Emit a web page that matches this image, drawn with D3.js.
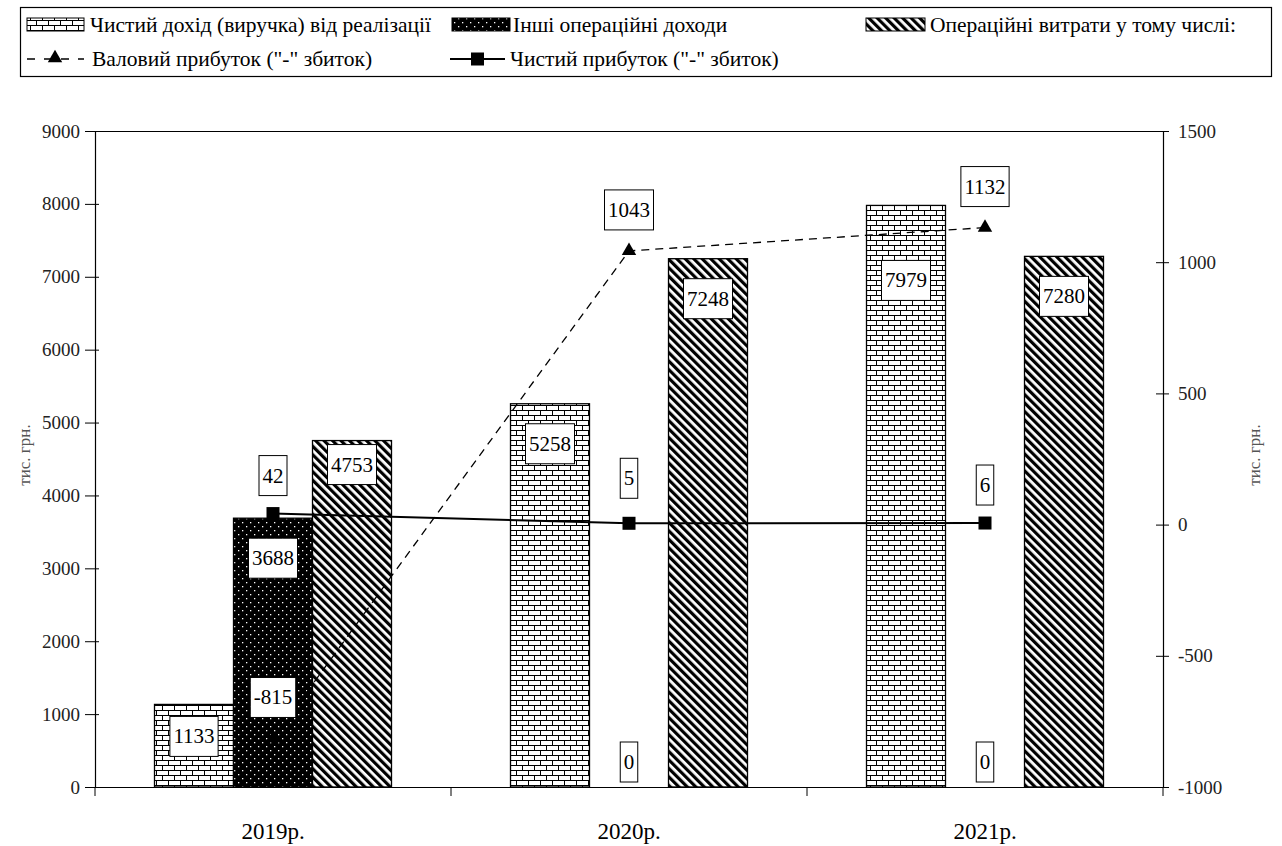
<!DOCTYPE html>
<html>
<head>
<meta charset="utf-8">
<script src="https://cdn.jsdelivr.net/npm/d3@7"></script>
<style>
  body { margin: 0; background: #fff; }
  svg { font-family: "Times New Roman", Times, Tinos, "Noto Serif", "Liberation Serif", "DejaVu Serif", serif; }
</style>
</head>
<body>
<div id="chart"></div>
<script>
// data
var years = ["2019р.", "2020р.", "2021р."];
var revenue = [1133, 5258, 7979];        // Чистий дохід (виручка) від реалізації
var otherIncome = [3688, 0, 0];          // Інші операційні доходи
var opExpenses = [4753, 7248, 7280];     // Операційні витрати
var grossProfit = [-815, 1043, 1132];    // Валовий прибуток
var netProfit = [42, 5, 6];              // Чистий прибуток
var leftTicks = [0, 1000, 2000, 3000, 4000, 5000, 6000, 7000, 8000, 9000];
var rightTicks = [-1000, -500, 0, 500, 1000, 1500];

var width = 1282, height = 846;
var margin = { top: 131, right: 119, bottom: 59, left: 95 };

var svg = d3.select("#chart")
    .append("svg")
    .attr("width", width)
    .attr("height", height);

// patterns
var defs = svg.append("defs");

var brick = defs.append("pattern").attr("id", "brick")
    .attr("patternUnits", "userSpaceOnUse").attr("width", 12).attr("height", 10);
brick.append("rect").attr("width", 12).attr("height", 10).attr("fill", "#fff");
brick.append("path")
    .attr("d", "M0,0.5H12M0,5.5H12M0.5,0V5.5M6.5,5.5V10")
    .attr("stroke", "#000").attr("stroke-width", 1).attr("fill", "none");

var dots = defs.append("pattern").attr("id", "dots")
    .attr("patternUnits", "userSpaceOnUse").attr("width", 8).attr("height", 8);
dots.append("rect").attr("width", 8).attr("height", 8).attr("fill", "#000");
dots.append("rect").attr("x", 2).attr("y", 2).attr("width", 1.3).attr("height", 1.3).attr("fill", "#fff");
dots.append("rect").attr("x", 6).attr("y", 6).attr("width", 1.3).attr("height", 1.3).attr("fill", "#fff");

var hatch = defs.append("pattern").attr("id", "hatch")
    .attr("patternUnits", "userSpaceOnUse").attr("width", 6).attr("height", 6)
    .attr("patternTransform", "rotate(-45)");
hatch.append("rect").attr("width", 6).attr("height", 6).attr("fill", "#fff");
hatch.append("rect").attr("width", 3.2).attr("height", 6).attr("fill", "#000");

var series = [
    { name: "Чистий дохід (виручка) від реалізації", values: revenue, fill: "url(#brick)" },
    { name: "Інші операційні доходи", values: otherIncome, fill: "url(#dots)" },
    { name: "Операційні витрати у тому числі:", values: opExpenses, fill: "url(#hatch)" }
];

// scales
var x0 = d3.scaleBand().domain(years).range([margin.left, width - margin.right]);
var x1 = d3.scaleBand().domain(d3.range(series.length)).range([59.5, 296.5]);
var yL = d3.scaleLinear().domain([0, 9000]).range([height - margin.bottom, margin.top]);
var yR = d3.scaleLinear().domain([-1000, 1500]).range([height - margin.bottom, margin.top]);

var plotR = width - margin.right, plotB = height - margin.bottom;
var plain = function (d) { return String(d); };

// top frame line
svg.append("line").attr("x1", margin.left).attr("x2", plotR)
    .attr("y1", margin.top + 0.5).attr("y2", margin.top + 0.5)
    .attr("stroke", "#000");

// bars
series.forEach(function (s, i) {
    svg.append("g").selectAll("rect")
        .data(s.values)
        .enter()
        .append("rect")
        .attr("x", function (d, j) { return x0(years[j]) + x1(i); })
        .attr("y", function (d) { return yL(d); })
        .attr("width", x1.bandwidth())
        .attr("height", function (d) { return plotB - yL(d); })
        .attr("fill", s.fill)
        .attr("stroke", "#000")
        .attr("stroke-width", 1.3);
});

// axes
var axL = svg.append("g")
    .attr("transform", "translate(" + margin.left + ",0)")
    .call(d3.axisLeft(yL).tickValues(leftTicks).tickFormat(plain).tickSize(10).tickSizeOuter(0).tickPadding(5));
axL.selectAll(".tick line").attr("x1", 4);

var axR = svg.append("g")
    .attr("transform", "translate(" + plotR + ",0)")
    .call(d3.axisRight(yR).tickValues(rightTicks).tickFormat(plain).tickSize(6).tickSizeOuter(0).tickPadding(9));
axR.selectAll(".tick line").attr("x1", -7);

var axB = svg.append("g")
    .attr("transform", "translate(0," + plotB + ")")
    .call(d3.axisBottom(x0).tickSize(0).tickPadding(36));
axB.selectAll(".tick text").attr("font-size", 23).attr("fill", "#000");
axB.selectAll(".sep")
    .data(d3.range(years.length + 1))
    .enter()
    .append("line")
    .attr("x1", function (d) { return margin.left + d * x0.step(); })
    .attr("x2", function (d) { return margin.left + d * x0.step(); })
    .attr("y1", 0).attr("y2", 9)
    .attr("stroke", "#000");

[axL, axR, axB].forEach(function (a) {
    a.select(".domain").attr("stroke", "#000").attr("stroke-width", 1.2);
    a.selectAll(".tick line").attr("stroke", "#000");
    a.attr("font-family", null);
});
axL.selectAll(".tick text").attr("font-size", 19).attr("fill", "#222");
axR.selectAll(".tick text").attr("font-size", 19).attr("fill", "#222");

// axis titles
svg.append("text")
    .attr("transform", "translate(24," + 455 + ") rotate(-90)")
    .attr("text-anchor", "middle").attr("dominant-baseline", "central")
    .attr("font-size", 17).attr("fill", "#555")
    .text("тис. грн.");
svg.append("text")
    .attr("transform", "translate(1254," + 455 + ") rotate(-90)")
    .attr("text-anchor", "middle").attr("dominant-baseline", "central")
    .attr("font-size", 17).attr("fill", "#555")
    .text("тис. грн.");

// lines
var cx = function (d, i) { return x0(years[i]) + x0.bandwidth() / 2; };

svg.append("path")
    .datum(grossProfit)
    .attr("fill", "none").attr("stroke", "#000").attr("stroke-width", 1.3)
    .attr("stroke-dasharray", "8,6")
    .attr("d", d3.line().x(cx).y(function (d) { return yR(d); }));

svg.append("g").selectAll("path")
    .data(grossProfit)
    .enter()
    .append("path")
    .attr("transform", function (d, i) { return "translate(" + cx(d, i) + "," + yR(d) + ")"; })
    .attr("d", d3.symbol().type(d3.symbolTriangle).size(90))
    .attr("fill", "#000");

svg.append("path")
    .datum(netProfit)
    .attr("fill", "none").attr("stroke", "#000").attr("stroke-width", 2)
    .attr("d", d3.line().x(cx).y(function (d) { return yR(d); }));

svg.append("g").selectAll("rect")
    .data(netProfit)
    .enter()
    .append("rect")
    .attr("x", function (d, i) { return cx(d, i) - 6.5; })
    .attr("y", function (d) { return yR(d) - 6.5; })
    .attr("width", 13).attr("height", 13)
    .attr("fill", "#000");

// data labels
function label(x, y, txt) {
    var g = svg.append("g");
    var r = g.append("rect");
    var t = g.append("text")
        .attr("x", x).attr("y", y)
        .attr("text-anchor", "middle").attr("dominant-baseline", "central")
        .attr("font-size", 21).attr("fill", "#000")
        .text(txt);
    var w = t.node().getComputedTextLength() + 7;
    r.attr("x", x - w / 2).attr("y", y - 20).attr("width", w).attr("height", 40)
        .attr("fill", "#fff").attr("stroke", "#000").attr("stroke-width", 1);
}

// nudges for labels moved by hand in the original
var barNudge = { "0-0": -8, "2-0": -16, "0-2": 35 };

series.forEach(function (s, i) {
    s.values.forEach(function (d, j) {
        var x = x0(years[j]) + x1(i) + x1.bandwidth() / 2;
        var y = d === 0 ? yL(0) - 25 : yL(d) + 40 + (barNudge[i + "-" + j] || 0);
        label(x, y, d);
    });
});
grossProfit.forEach(function (d, i) {
    label(cx(d, i), yR(d) - 41, d);
});
netProfit.forEach(function (d, i) {
    label(cx(d, i), yR(d) - (i === 1 ? 45 : 38), d);
});

// legend
var lg = svg.append("g").attr("font-size", 21.5);
lg.append("rect").attr("x", 20.5).attr("y", 7.5).attr("width", 1251).attr("height", 69)
    .attr("fill", "#fff").attr("stroke", "#000").attr("stroke-width", 1.2);

var legBars = [
    { x: 27, w: 57, tx: 90 },
    { x: 452, w: 58, tx: 513 },
    { x: 866, w: 59, tx: 930 }
];
series.forEach(function (s, i) {
    var p = legBars[i];
    lg.append("rect").attr("x", p.x).attr("y", 18).attr("width", p.w).attr("height", 13)
        .attr("fill", s.fill).attr("stroke", "#000").attr("stroke-width", 1);
    lg.append("text").attr("x", p.tx).attr("y", 25).attr("dominant-baseline", "central")
        .text(s.name);
});

lg.append("line").attr("x1", 27).attr("x2", 84).attr("y1", 59).attr("y2", 59)
    .attr("stroke", "#000").attr("stroke-width", 1.3).attr("stroke-dasharray", "8,9");
lg.append("path").attr("transform", "translate(55,58)")
    .attr("d", d3.symbol().type(d3.symbolTriangle).size(90)).attr("fill", "#000");
lg.append("text").attr("x", 92).attr("y", 59).attr("dominant-baseline", "central")
    .text("Валовий прибуток (\"-\" збиток)");

lg.append("line").attr("x1", 450).attr("x2", 505).attr("y1", 59).attr("y2", 59)
    .attr("stroke", "#000").attr("stroke-width", 2);
lg.append("rect").attr("x", 471).attr("y", 52.5).attr("width", 13).attr("height", 13).attr("fill", "#000");
lg.append("text").attr("x", 510).attr("y", 59).attr("dominant-baseline", "central")
    .text("Чистий прибуток (\"-\" збиток)");
</script>
</body>
</html>
